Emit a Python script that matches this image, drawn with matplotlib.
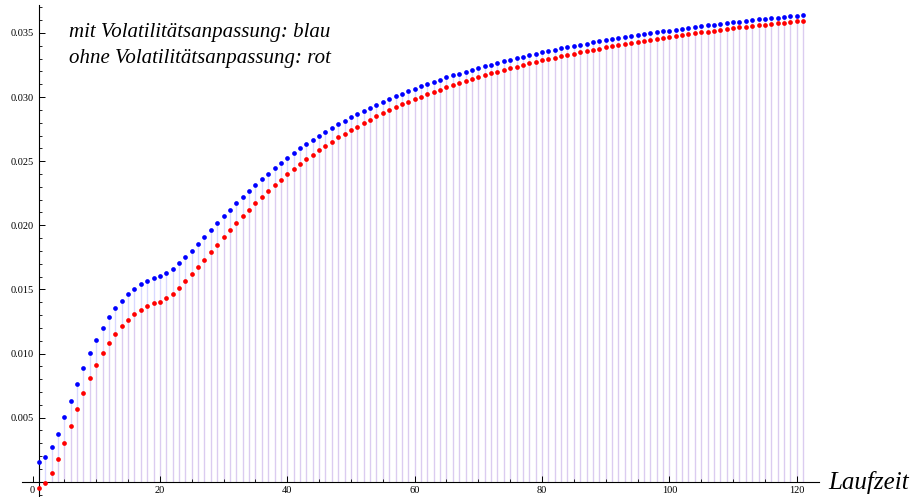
import numpy as np
import matplotlib.pyplot as plt
from matplotlib.ticker import MultipleLocator, FormatStrFormatter

# Laufzeit 1..121
laufzeit = np.arange(1, 122)

# mit Volatilitaetsanpassung (blau)
blau = [
    0.00151, 0.00193, 0.00268, 0.00375, 0.00502, 0.00632, 0.00762, 0.00889, 0.01006, 0.01108,
    0.01201, 0.01285, 0.01352, 0.01412, 0.01464, 0.01503, 0.01540, 0.01568, 0.01589, 0.01607,
    0.01628, 0.01662, 0.01706, 0.01752, 0.01801, 0.01854, 0.01909, 0.01963, 0.02018, 0.02070,
    0.02122, 0.02172, 0.02221, 0.02270, 0.02317, 0.02361, 0.02403, 0.02447, 0.02486, 0.02527,
    0.02564, 0.02599, 0.02634, 0.02667, 0.02699, 0.02730, 0.02761, 0.02790, 0.02817, 0.02842,
    0.02871, 0.02894, 0.02917, 0.02941, 0.02964, 0.02985, 0.03009, 0.03027, 0.03045, 0.03066,
    0.03084, 0.03102, 0.03120, 0.03136, 0.03154, 0.03170, 0.03183, 0.03198, 0.03211, 0.03225,
    0.03240, 0.03253, 0.03266, 0.03279, 0.03292, 0.03305, 0.03315, 0.03328, 0.03339, 0.03349,
    0.03360, 0.03370, 0.03381, 0.03391, 0.03401, 0.03409, 0.03417, 0.03427, 0.03435, 0.03443,
    0.03453, 0.03461, 0.03469, 0.03477, 0.03484, 0.03492, 0.03498, 0.03505, 0.03513, 0.03519,
    0.03526, 0.03534, 0.03541, 0.03547, 0.03555, 0.03560, 0.03565, 0.03573, 0.03578, 0.03583,
    0.03588, 0.03594, 0.03601, 0.03607, 0.03609, 0.03615, 0.03619, 0.03625, 0.03630, 0.03632,
    0.03640,
]

# ohne Volatilitaetsanpassung (rot)
rot = [
    -0.00049, -0.00008, 0.00068, 0.00175, 0.00302, 0.00432, 0.00565, 0.00690, 0.00807, 0.00908,
    0.01002, 0.01085, 0.01155, 0.01212, 0.01261, 0.01306, 0.01339, 0.01368, 0.01394, 0.01404,
    0.01431, 0.01467, 0.01513, 0.01563, 0.01618, 0.01676, 0.01732, 0.01792, 0.01849, 0.01906,
    0.01963, 0.02018, 0.02070, 0.02122, 0.02174, 0.02221, 0.02268, 0.02314, 0.02356, 0.02398,
    0.02439, 0.02478, 0.02515, 0.02551, 0.02585, 0.02619, 0.02650, 0.02686, 0.02712, 0.02741,
    0.02769, 0.02798, 0.02824, 0.02850, 0.02874, 0.02897, 0.02920, 0.02944, 0.02962, 0.02983,
    0.03003, 0.03022, 0.03040, 0.03058, 0.03076, 0.03094, 0.03110, 0.03126, 0.03141, 0.03157,
    0.03170, 0.03186, 0.03198, 0.03211, 0.03225, 0.03237, 0.03250, 0.03264, 0.03274, 0.03287,
    0.03297, 0.03307, 0.03318, 0.03328, 0.03339, 0.03349, 0.03360, 0.03370, 0.03378, 0.03388,
    0.03396, 0.03404, 0.03412, 0.03422, 0.03430, 0.03438, 0.03445, 0.03453, 0.03461, 0.03469,
    0.03477, 0.03484, 0.03492, 0.03498, 0.03505, 0.03510, 0.03518, 0.03526, 0.03531, 0.03537,
    0.03544, 0.03549, 0.03555, 0.03560, 0.03565, 0.03570, 0.03576, 0.03581, 0.03586, 0.03591,
    0.03596,
]

plt.rcParams['font.family'] = ['Liberation Serif', 'DejaVu Serif']

fig = plt.figure(figsize=(9.22, 4.97), dpi=100)
# Achsenbereich in Pixeln wie im Original
ax = fig.add_axes([21.7 / 922, 0.0, (819 - 21.7) / 922, 492 / 497])
ax.set_xlim(-1.7, 123.5)
ax.set_ylim(-0.00119, 0.03718)

# Filling -> Axis (blasse Linien)
ax.vlines(laufzeit, 0, blau, colors=(0, 0, 1, 0.15), linewidth=1.0, zorder=1)
ax.vlines(laufzeit, 0, rot, colors=(1, 0, 0, 0.06), linewidth=1.0, zorder=1)

ax.plot(laufzeit, blau, 'o', color='blue', markersize=3.4, markeredgewidth=0, zorder=3)
ax.plot(laufzeit, rot, 'o', color='red', markersize=3.4, markeredgewidth=0, zorder=3)

# Achsen im Mathematica-Stil
for s in ['top', 'right']:
    ax.spines[s].set_visible(False)
ax.spines['left'].set_position(('data', 1))
ax.spines['bottom'].set_position(('data', 0))
ax.spines['left'].set_linewidth(0.8)
ax.spines['bottom'].set_linewidth(0.8)

ax.xaxis.set_major_locator(MultipleLocator(20))
ax.xaxis.set_minor_locator(MultipleLocator(5))
ax.yaxis.set_major_locator(MultipleLocator(0.005))
ax.yaxis.set_minor_locator(MultipleLocator(0.001))
ax.yaxis.set_major_formatter(FormatStrFormatter('%.3f'))

ax.tick_params(axis='both', which='major', direction='in', length=4, width=0.7,
               labelsize=7.5)
ax.tick_params(axis='x', which='major', pad=3)
ax.tick_params(axis='y', which='major', pad=3.5)
ax.tick_params(axis='both', which='minor', direction='in', length=2.5, width=0.6)

yt = ax.get_yticks()
ax.set_yticks([t for t in yt if t > 0.001 and t < 0.037])

ax.text(5.7, 0.0350, 'mit Volatilitätsanpassung: blau', fontsize=15, style='italic',
        va='center', ha='left')
ax.text(5.7, 0.0330, 'ohne Volatilitätsanpassung: rot', fontsize=15, style='italic',
        va='center', ha='left')

fig.text(828 / 922, 1 - 482 / 497, 'Laufzeit', fontsize=18, style='italic',
         va='center', ha='left')

fig.savefig('out.png', dpi=100)
